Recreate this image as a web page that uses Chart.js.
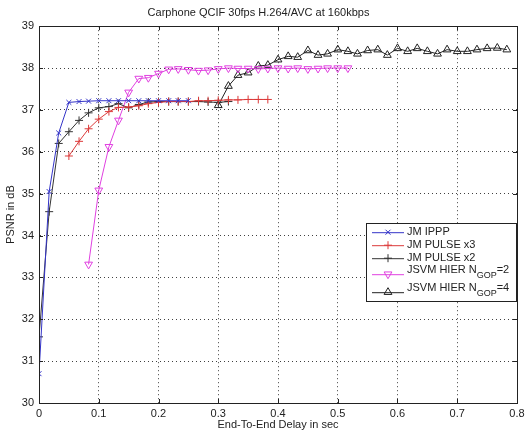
<!DOCTYPE html>
<html lang="en">
<head>
<meta charset="UTF-8">
<title>Carphone QCIF 30fps</title>
<script src="https://cdn.jsdelivr.net/npm/chart.js"></script>
<style>
    html, body { margin: 0; padding: 0; background: #fff; }
    #caixa { width: 525px; height: 432px; }
</style>
</head>
<body>
<div id="caixa"><canvas id="grafico"></canvas></div>
<script>
// end-to-end delay (s) and PSNR (dB)
var ipppDelay = [0, 0.017, 0.033, 0.05, 0.067, 0.083, 0.1, 0.117, 0.133, 0.15, 0.167, 0.183, 0.2, 0.217, 0.233, 0.25];
var ipppPsnr  = [30.7, 35.05, 36.45, 37.18, 37.2, 37.21, 37.22, 37.22, 37.22, 37.22, 37.22, 37.22, 37.22, 37.22, 37.22, 37.22];

var pulse3Delay = [0.05, 0.067, 0.083, 0.1, 0.117, 0.133, 0.15, 0.167, 0.183, 0.2, 0.217, 0.233, 0.25, 0.267, 0.283, 0.3, 0.317, 0.333, 0.35, 0.367, 0.383];
var pulse3Psnr  = [35.9, 36.25, 36.55, 36.78, 36.96, 37.06, 37.07, 37.1, 37.15, 37.18, 37.2, 37.2, 37.2, 37.22, 37.22, 37.23, 37.24, 37.24, 37.25, 37.25, 37.25];

var pulse2Delay = [0, 0.017, 0.033, 0.05, 0.067, 0.083, 0.1, 0.117, 0.133, 0.15, 0.167, 0.183, 0.2, 0.217, 0.233, 0.25, 0.267, 0.283, 0.3, 0.317];
var pulse2Psnr  = [31.58, 34.57, 36.2, 36.48, 36.75, 36.93, 37.05, 37.08, 37.15, 37.05, 37.13, 37.19, 37.2, 37.2, 37.2, 37.2, 37.2, 37.19, 37.18, 37.2];

var hier2Delay = [0.083, 0.1, 0.117, 0.133, 0.15, 0.167, 0.183, 0.2, 0.217, 0.233, 0.25, 0.267, 0.283, 0.3, 0.317, 0.333, 0.35, 0.367, 0.383, 0.4, 0.417, 0.433, 0.45, 0.467, 0.483, 0.5, 0.517];
var hier2Psnr  = [33.31, 35.08, 36.12, 36.75, 37.42, 37.75, 37.77, 37.87, 37.97, 37.98, 37.96, 37.94, 37.95, 37.98, 38.0, 37.99, 37.99, 37.98, 37.99, 38.0, 37.99, 38.0, 37.98, 37.99, 38.0, 38.0, 38.0];

var hier4Delay = [0.3, 0.317, 0.333, 0.35, 0.367, 0.383, 0.4, 0.417, 0.433, 0.45, 0.467, 0.483, 0.5, 0.517, 0.533, 0.55, 0.567, 0.583, 0.6, 0.617, 0.633, 0.65, 0.667, 0.683, 0.7, 0.717, 0.733, 0.75, 0.767, 0.783];
var hier4Psnr  = [37.11, 37.57, 37.83, 37.89, 38.05, 38.07, 38.2, 38.28, 38.26, 38.42, 38.31, 38.34, 38.44, 38.4, 38.34, 38.42, 38.44, 38.31, 38.47, 38.4, 38.47, 38.4, 38.34, 38.44, 38.4, 38.4, 38.44, 38.47, 38.48, 38.44];

var nomes = ['JM IPPP', 'JM PULSE x3', 'JM PULSE x2', 'JSVM HIER N_GOP=2', 'JSVM HIER N_GOP=4'];
var xTicks = [0, 0.1, 0.2, 0.3, 0.4, 0.5, 0.6, 0.7, 0.8];
var yTicks = [30, 31, 32, 33, 34, 35, 36, 37, 38, 39];

var fonte = 'Liberation Sans, Arial, sans-serif';

function pares(d, p) {
    return d.map(function (x, i) { return { x: x, y: p[i] }; });
}

function serie(nome, d, p, cor, estilo, rot, raio) {
    return {
        label: nome,
        data: pares(d, p),
        borderColor: cor,
        backgroundColor: 'transparent',
        borderWidth: 1,
        pointStyle: estilo,
        pointRotation: rot,
        pointRadius: raio,
        pointBorderColor: cor,
        pointBackgroundColor: 'transparent',
        pointBorderWidth: 1,
        tension: 0
    };
}

// caixa do grafico com ticks para dentro (estilo matlab)
var moldura = {
    id: 'moldura',
    afterDraw: function (chart) {
        var a = chart.chartArea, ctx = chart.ctx;
        var sx = chart.scales.x, sy = chart.scales.y;
        ctx.save();
        ctx.strokeStyle = '#222';
        ctx.lineWidth = 1;
        ctx.strokeRect(Math.round(a.left) + 0.5, Math.round(a.top) + 0.5,
            Math.round(a.right - a.left), Math.round(a.bottom - a.top));
        ctx.beginPath();
        xTicks.forEach(function (t) {
            var px = Math.round(sx.getPixelForValue(t)) + 0.5;
            ctx.moveTo(px, a.bottom); ctx.lineTo(px, a.bottom - 4);
            ctx.moveTo(px, a.top); ctx.lineTo(px, a.top + 4);
        });
        yTicks.forEach(function (t) {
            var py = Math.round(sy.getPixelForValue(t)) + 0.5;
            ctx.moveTo(a.left, py); ctx.lineTo(a.left + 4, py);
            ctx.moveTo(a.right, py); ctx.lineTo(a.right - 4, py);
        });
        ctx.stroke();
        ctx.restore();
    }
};

// legenda desenhada a mao por causa do subscrito N_GOP
var legenda = {
    id: 'legenda',
    afterDraw: function (chart) {
        var a = chart.chartArea, ctx = chart.ctx;
        var dir = a.right - 1, esq = dir - 150, topo = a.top + 197, alt = 78;
        var ys = [topo + 9, topo + 22, topo + 35, topo + 51, topo + 69];
        ctx.save();
        ctx.fillStyle = '#fff';
        ctx.fillRect(esq, topo, dir - esq, alt);
        ctx.strokeStyle = '#222';
        ctx.lineWidth = 1;
        ctx.strokeRect(Math.round(esq) + 0.5, Math.round(topo) + 0.5, Math.round(dir - esq), alt);
        chart.data.datasets.forEach(function (ds, i) {
            var y = ys[i];
            ctx.strokeStyle = ds.borderColor;
            ctx.lineWidth = 1;
            ctx.beginPath();
            ctx.moveTo(esq + 6, y + 0.5);
            ctx.lineTo(esq + 38, y + 0.5);
            ctx.stroke();
            ctx.fillStyle = 'rgba(0,0,0,0)';
            ctx.strokeStyle = ds.borderColor;
            Chart.helpers.drawPoint(ctx, {
                pointStyle: ds.pointStyle, rotation: ds.pointRotation,
                radius: ds.pointRadius, borderWidth: 1
            }, esq + 22, y);
            ctx.fillStyle = '#222';
            ctx.textBaseline = 'middle';
            var m = ds.label.match(/^(.*)_(\w+)(=.*)$/);
            if (m) {
                ctx.font = '11px ' + fonte;
                ctx.fillText(m[1], esq + 41, y - 4);
                var w = ctx.measureText(m[1]).width;
                ctx.font = '9px ' + fonte;
                ctx.fillText(m[2], esq + 41 + w, y + 1);
                var w2 = ctx.measureText(m[2]).width;
                ctx.font = '11px ' + fonte;
                ctx.fillText(m[3], esq + 41 + w + w2, y - 4);
            } else {
                ctx.font = '11px ' + fonte;
                ctx.fillText(ds.label, esq + 41, y);
            }
        });
        ctx.restore();
    }
};

var ctx = document.getElementById('grafico').getContext('2d');

var grafico = new Chart(ctx, {
    type: 'line',
    data: {
        datasets: [
            serie(nomes[0], ipppDelay, ipppPsnr, '#3434c8', 'crossRot', 0, 3.5),
            serie(nomes[1], pulse3Delay, pulse3Psnr, '#dc3a3a', 'cross', 0, 4),
            serie(nomes[2], pulse2Delay, pulse2Psnr, '#333333', 'cross', 0, 4),
            serie(nomes[3], hier2Delay, hier2Psnr, '#e040e0', 'triangle', 180, 4.5),
            serie(nomes[4], hier4Delay, hier4Psnr, '#222222', 'triangle', 0, 4.5)
        ]
    },
    options: {
        responsive: true,
        maintainAspectRatio: false,
        animation: false,
        layout: { padding: { left: 0, right: 8, top: 0, bottom: 0 } },
        plugins: {
            legend: { display: false },
            tooltip: { enabled: false },
            title: {
                display: true,
                text: 'Carphone QCIF 30fps H.264/AVC at 160kbps',
                color: '#222',
                font: { family: fonte, size: 11, weight: 'normal' },
                padding: { top: 6, bottom: 7 }
            }
        },
        scales: {
            x: {
                type: 'linear',
                min: 0, max: 0.8,
                afterBuildTicks: function (s) { s.ticks = xTicks.map(function (v) { return { value: v }; }); },
                afterFit: function (s) { s.height = 29; s.paddingRight = 0; s.paddingLeft = 0; },
                ticks: {
                    color: '#222',
                    padding: 4,
                    maxRotation: 0,
                    font: { family: fonte, size: 11 },
                    callback: function (v) { return v === 0 ? '0' : (Math.round(v * 10) / 10).toString(); }
                },
                grid: { color: 'rgba(0,0,0,0.75)', drawTicks: false, lineWidth: 1 },
                border: { display: true, color: '#222', dash: [1, 3] },
                title: {
                    display: true,
                    text: 'End-To-End Delay in sec',
                    color: '#222',
                    font: { family: fonte, size: 11 },
                    padding: { top: 1, bottom: 0 }
                }
            },
            y: {
                min: 30, max: 39,
                afterBuildTicks: function (s) { s.ticks = yTicks.map(function (v) { return { value: v }; }); },
                afterFit: function (s) { s.width = 39; s.paddingTop = 0; s.paddingBottom = 0; },
                ticks: {
                    color: '#222',
                    padding: 5,
                    font: { family: fonte, size: 11 }
                },
                grid: { color: 'rgba(0,0,0,0.75)', drawTicks: false, lineWidth: 1 },
                border: { display: true, color: '#222', dash: [1, 3] },
                title: {
                    display: true,
                    text: 'PSNR in dB',
                    color: '#222',
                    font: { family: fonte, size: 11 },
                    padding: { top: 4, bottom: 0 }
                }
            }
        }
    },
    plugins: [moldura, legenda]
});
</script>
</body>
</html>
